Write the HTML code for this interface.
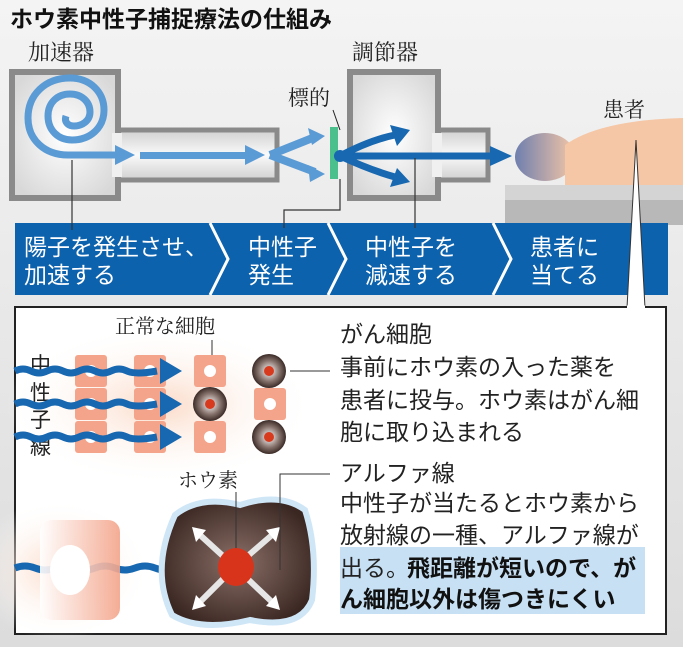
<!DOCTYPE html>
<html><head><meta charset="utf-8"><style>
html,body{margin:0;padding:0;background:#fff}
svg{display:block}
text{font-family:"Liberation Sans","Noto Sans CJK JP",sans-serif}
.s{font-family:"Liberation Serif","Noto Serif CJK SC",serif}
</style></head><body>
<svg width="683" height="647" viewBox="0 0 683 647" xmlns="http://www.w3.org/2000/svg">
<defs>
<linearGradient id="bg" x1="0" y1="0" x2="0" y2="1"><stop offset="0" stop-color="#f4f4f4"/><stop offset="1" stop-color="#dcdcdc"/></linearGradient>
<radialGradient id="box" cx="0.5" cy="0.5" r="0.6"><stop offset="0" stop-color="#ffffff"/><stop offset="1" stop-color="#d8d8d8"/></radialGradient>
<linearGradient id="pipe" x1="0" y1="0" x2="0" y2="1"><stop offset="0" stop-color="#d0d0d0"/><stop offset="0.5" stop-color="#fafafa"/><stop offset="1" stop-color="#d0d0d0"/></linearGradient>
<linearGradient id="head" x1="0" y1="0" x2="1" y2="0"><stop offset="0" stop-color="#6f7fae"/><stop offset="1" stop-color="#f5c7a6"/></linearGradient>
<radialGradient id="glow" cx="0.5" cy="0.5" r="0.5"><stop offset="0" stop-color="#fbd9c6"/><stop offset="1" stop-color="#fff" stop-opacity="0"/></radialGradient>
<radialGradient id="can" cx="0.5" cy="0.5" r="0.5"><stop offset="0" stop-color="#fff"/><stop offset="0.6" stop-color="#8a7670"/><stop offset="1" stop-color="#3a2a26"/></radialGradient>
<radialGradient id="big" cx="0.5" cy="0.5" r="0.55"><stop offset="0" stop-color="#8a7068"/><stop offset="1" stop-color="#3b2722"/></radialGradient>
<linearGradient id="cellL" x1="0" y1="0" x2="1" y2="0"><stop offset="0" stop-color="#fff"/><stop offset="1" stop-color="#f3a48a"/></linearGradient>
</defs>
<rect width="683" height="647" fill="url(#bg)"/>
<text x="10" y="27" font-size="23" font-weight="bold" fill="#111">ホウ素中性子捕捉療法の仕組み</text>
<text x="28" y="60" font-size="22" class="s" fill="#222">加速器</text>
<text x="352" y="60" font-size="22" class="s" fill="#222">調節器</text>
<text x="288" y="105" font-size="21" class="s" fill="#222">標的</text>
<text x="603" y="117" font-size="21" class="s" fill="#222">患者</text>

<rect x="112" y="130" width="165" height="50" fill="url(#pipe)" stroke="#8a8a8a" stroke-width="5"/>
<rect x="434" y="130" width="54" height="50" fill="url(#pipe)" stroke="#8a8a8a" stroke-width="5"/>
<rect x="12" y="72" width="106" height="126" fill="url(#box)" stroke="#8a8a8a" stroke-width="6"/>
<rect x="112" y="133" width="10" height="44" fill="#f0f0f0"/>
<rect x="350" y="72" width="88" height="126" fill="url(#box)" stroke="#8a8a8a" stroke-width="6"/>
<rect x="432" y="133" width="10" height="44" fill="#f0f0f0"/>
<path d="M70 78 C45 78 28 95 28 118 C28 140 45 155 68 155 L115 155 M70 78 C90 78 104 92 104 110 C104 128 90 140 72 140 C58 140 48 130 48 116 C48 102 58 94 70 94 C82 94 90 102 90 112 C90 121 82 126 74 126 C68 126 64 122 66 116" fill="none" stroke="#5b9bd5" stroke-width="7"/>
<path d="M115 145 L135 155 L115 165 Z" fill="#5b9bd5"/>
<rect x="140" y="152" width="105" height="7" fill="#5b9bd5"/>
<path d="M245 145 L265 155 L245 165 Z" fill="#5b9bd5"/>
<path d="M270 155 L315 137 M270 155 L315 172" stroke="#5b9bd5" stroke-width="8"/>
<path d="M308 128 L325 136 L312 145 Z M308 165 L325 174 L310 182 Z" fill="#5b9bd5"/>
<rect x="330" y="127" width="8" height="52" fill="#4bbf8c"/>
<line x1="333" y1="110" x2="340" y2="130" stroke="#222" stroke-width="1"/>
<circle cx="340" cy="156" r="6" fill="#1768b0"/>
<path d="M340 156 Q370 140 395 135 M340 156 L490 156 M340 156 Q370 170 395 177" fill="none" stroke="#1768b0" stroke-width="7"/>
<path d="M390 125 L410 130 L397 146 Z M390 187 L410 182 L397 168 Z M490 146 L512 156 L490 166 Z" fill="#1768b0"/>
<rect x="505" y="185" width="178" height="40" fill="#b8b8b8"/>
<rect x="505" y="185" width="178" height="15" fill="#d4d4d4"/>
<ellipse cx="545" cy="157" rx="30" ry="24" fill="url(#head)"/>
<path d="M565 145 Q600 120 683 118 L683 185 L565 185 Z" fill="#f5c7a6"/>
<rect x="15" y="223" width="653" height="72" fill="#0d62ad"/>
<path d="M210 223 L228 259 L210 295 M328 223 L346 259 L328 295 M493 223 L511 259 L493 295" fill="none" stroke="#fff" stroke-width="3"/>
<g fill="#fff" font-size="23">
<text x="24" y="255">陽子を発生させ、</text><text x="24" y="283">加速する</text>
<text x="248" y="255">中性子</text><text x="248" y="283">発生</text>
<text x="365" y="255">中性子を</text><text x="365" y="283">減速する</text>
<text x="530" y="255">患者に</text><text x="530" y="283">当てる</text>
</g>
<g stroke="#333" stroke-width="1.2" fill="none">
<line x1="72" y1="160" x2="72" y2="230"/>
<path d="M340 179 L340 210 L284 210 L284 228"/>
<line x1="415" y1="158" x2="415" y2="228"/>
</g>
<path d="M636 140 L627 308 L645 308 Z" fill="#fff" stroke="#333" stroke-width="1"/>
<rect x="15" y="307" width="651" height="327" fill="#fff" stroke="#222" stroke-width="2"/>
<line x1="627" y1="307" x2="645" y2="307" stroke="#fff" stroke-width="3"/>
<ellipse cx="160" cy="405" rx="155" ry="80" fill="url(#glow)"/>
<ellipse cx="60" cy="570" rx="90" ry="70" fill="url(#glow)"/>
<text x="115" y="333" font-size="20" class="s" fill="#222">正常な細胞</text>
<line x1="212" y1="340" x2="212" y2="358" stroke="#333"/>
<g class="s" font-size="21" fill="#222"><text x="30" y="372">中</text><text x="30" y="400">性</text><text x="30" y="427">子</text><text x="30" y="454">線</text></g>
<g fill="#f3a48a">
<rect x="75" y="355" width="32" height="32" rx="3"/><rect x="134" y="355" width="32" height="32" rx="3"/><rect x="194" y="355" width="32" height="32" rx="3"/>
<rect x="75" y="388" width="32" height="32" rx="3"/><rect x="134" y="388" width="32" height="32" rx="3"/><rect x="254" y="388" width="32" height="32" rx="3"/>
<rect x="75" y="421" width="32" height="32" rx="3"/><rect x="134" y="421" width="32" height="32" rx="3"/><rect x="194" y="421" width="32" height="32" rx="3"/>
</g>
<g fill="#fff"><circle cx="91" cy="371" r="6"/><circle cx="150" cy="371" r="6"/><circle cx="210" cy="371" r="6"/><circle cx="91" cy="404" r="6"/><circle cx="150" cy="404" r="6"/><circle cx="270" cy="404" r="6"/><circle cx="91" cy="437" r="6"/><circle cx="150" cy="437" r="6"/><circle cx="210" cy="437" r="6"/></g>
<g fill="url(#can)"><circle cx="269" cy="371" r="17"/><circle cx="210" cy="404" r="17"/><circle cx="269" cy="437" r="17"/></g>
<g fill="#d83a1e"><circle cx="269" cy="371" r="5"/><circle cx="210" cy="404" r="5"/><circle cx="269" cy="437" r="5"/></g>
<line x1="290" y1="371" x2="330" y2="371" stroke="#333"/>
<g fill="none" stroke="#1768b0" stroke-width="7">
<path d="M15 371 q8 -4 16 0 t16 0 t16 0 t16 0 t16 0 t16 0 t16 0 t30 0"/>
<path d="M15 404 q8 -4 16 0 t16 0 t16 0 t16 0 t16 0 t16 0 t16 0 t30 0"/>
<path d="M15 437 q8 -4 16 0 t16 0 t16 0 t16 0 t16 0 t16 0 t16 0 t30 0"/>
<path d="M15 568 q10 -4 20 0 t20 0 t20 0 t20 0 t20 0 t20 0 t20 0 t20 0"/>
</g>
<g fill="#1768b0"><path d="M160 358 L182 371 L160 384Z M160 391 L182 404 L160 417Z M160 424 L182 437 L160 450Z M195 554 L220 568 L195 582Z"/></g>
<rect x="40" y="520" width="80" height="100" rx="12" fill="url(#cellL)" opacity="0.9"/>
<ellipse cx="70" cy="570" rx="20" ry="25" fill="#fff"/>
<path d="M175 515 Q200 495 240 505 Q280 492 305 510 Q318 550 312 600 Q300 630 250 620 Q200 632 172 615 Q150 570 175 515Z" fill="url(#big)" stroke="#cfe6f7" stroke-width="6"/>
<g stroke="#e6e6e6" stroke-width="6"><path d="M235 567 L200 535 M235 567 L272 535 M235 567 L200 602 M235 567 L272 602"/></g>
<g fill="#fff"><path d="M192 527 L206 530 L196 542Z M280 527 L266 530 L276 542Z M192 610 L196 595 L206 606Z M280 610 L276 595 L266 606Z"/></g>
<ellipse cx="236" cy="567" rx="18" ry="19" fill="#d8341c"/>
<text x="178" y="487" font-size="20" class="s" fill="#222">ホウ素</text>
<line x1="236" y1="492" x2="236" y2="548" stroke="#333"/>
<path d="M280 570 L280 474 L330 474" fill="none" stroke="#333"/>
<rect x="340" y="547" width="305" height="67" fill="#c7e0f4"/>
<g font-size="23" class="s" fill="#222">
<text x="340" y="342">がん細胞</text>
<text x="340" y="375">事前にホウ素の入った薬を</text>
<text x="340" y="408">患者に投与。ホウ素はがん細</text>
<text x="340" y="440">胞に取り込まれる</text>
<text x="340" y="481">アルファ線</text>
<text x="340" y="511">中性子が当たるとホウ素から</text>
<text x="340" y="543">放射線の一種、アルファ線が</text>
<text x="340" y="576">出る。</text>
</g>
<g font-size="23" font-weight="bold" fill="#111">
<text x="407" y="576">飛距離が短いので、が</text>
<text x="340" y="607">ん細胞以外は傷つきにくい</text>
</g>
</svg>
</body></html>
